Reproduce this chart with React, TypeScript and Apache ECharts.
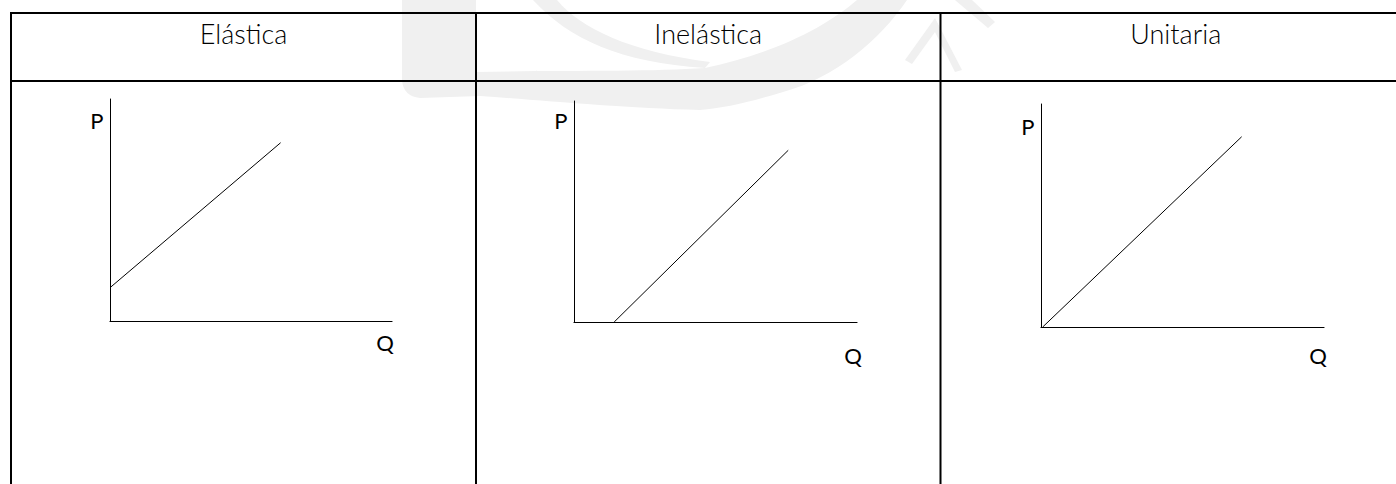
import React, { useEffect, useRef } from "react";
import * as echarts from "echarts";

// ---- data ----
const CATEGORIES = ["Elástica", "Inelástica", "Unitaria"];
const P_LABEL = "P";
const Q_LABEL = "Q";
const X_MAX = 10;
const Y_MAX = 10;
const ELASTICA_LINE = [
  [0, 1.5],
  [6.05, 8.03],
];
const INELASTICA_LINE = [
  [1.42, 0],
  [7.57, 7.77],
];
const UNITARIA_LINE = [
  [0.06, 0],
  [7.09, 8.53],
];
const SERIES_DATA = [ELASTICA_LINE, INELASTICA_LINE, UNITARIA_LINE];

// ---- layout (px) ----
const COLUMN_EDGES = [11, 476, 940.5, 1411];
const TABLE_TOP = 13;
const HEADER_BOTTOM = 81;
const GRIDS = [
  { left: 110, top: 99, width: 282, height: 222, pDx: -6.5, pDy: 21.5, qDx: -7, qDy: 21 },
  { left: 574, top: 101, width: 283, height: 221, pDx: -6.5, pDy: 19.5, qDx: -4, qDy: 33 },
  { left: 1041, top: 104, width: 283, height: 223, pDx: -6.5, pDy: 22.3, qDx: -6, qDy: 28 },
];

const WM_COLOR = "#f0f0f0";
echarts.graphic.registerShape(
  "wmBand",
  echarts.graphic.extendPath(
    "M402,0 L476,0 L476,72 C560,70 650,72 705,68 C770,55 825,28 857,0 L907,0 C880,40 835,78 783,92 C750,102 725,108 700,110 C620,108 540,100 480,96 L420,98 Q403,96 402,80 Z",
    {}
  )
);
echarts.graphic.registerShape(
  "wmArc",
  echarts.graphic.extendPath(
    "M533,0 L557,0 C580,28 630,52 710,62 L705,68 C620,62 570,40 533,0 Z",
    {}
  )
);
echarts.graphic.registerShape(
  "wmArrow",
  echarts.graphic.extendPath(
    "M905,60 L935,18 L962,70 L955,72 L935,32 L912,64 Z M955,0 L972,0 L995,22 L988,28 Z",
    {}
  )
);

export default function App() {
  const ref = useRef<HTMLDivElement>(null);

  useEffect(() => {
    if (!ref.current) return;
    const chart = echarts.init(ref.current, undefined, { renderer: "svg" });

    const font = "Lato, 'Noto Sans', sans-serif";

    const grid = GRIDS.map((g) => ({
      left: g.left,
      top: g.top,
      width: g.width,
      height: g.height,
      containLabel: false,
      outerBoundsMode: "none",
    }));

    const xAxis = GRIDS.map((g, i) => ({
      type: "value",
      gridIndex: i,
      min: 0,
      max: X_MAX,
      axisLine: { show: true, onZero: false, lineStyle: { color: "#000", width: 1.2 } },
      axisTick: { show: false },
      axisLabel: { show: false },
      splitLine: { show: false },
    }));

    const yAxis = GRIDS.map((g, i) => ({
      type: "value",
      gridIndex: i,
      min: 0,
      max: Y_MAX,
      axisLine: { show: true, onZero: false, lineStyle: { color: "#000", width: 1 } },
      axisTick: { show: false },
      axisLabel: { show: false },
      splitLine: { show: false },
    }));

    const series = SERIES_DATA.map((d, i) => ({
      type: "line",
      xAxisIndex: i,
      yAxisIndex: i,
      data: d,
      showSymbol: false,
      symbol: "none",
      silent: true,
      lineStyle: { color: "#000", width: 1 },
    }));

    const tableLines: any[] = [];
    const lineStyle = { stroke: "#000", lineWidth: 2 };
    tableLines.push({
      type: "line",
      shape: { x1: COLUMN_EDGES[0] - 1, y1: TABLE_TOP, x2: 1396, y2: TABLE_TOP },
      style: lineStyle,
      z: 10,
    });
    tableLines.push({
      type: "line",
      shape: { x1: COLUMN_EDGES[0] - 1, y1: HEADER_BOTTOM, x2: 1396, y2: HEADER_BOTTOM },
      style: lineStyle,
      z: 10,
    });
    COLUMN_EDGES.slice(0, 3).forEach((x) => {
      tableLines.push({
        type: "line",
        shape: { x1: x, y1: TABLE_TOP - 1, x2: x, y2: 484 },
        style: lineStyle,
        z: 10,
      });
    });

    const headers = CATEGORIES.map((c, i) => ({
      type: "text",
      x: (COLUMN_EDGES[i] + COLUMN_EDGES[i + 1]) / 2,
      y: 33,
      z: 10,
      style: {
        text: c,
        fill: "#000",
        font: `300 27px ${font}`,
        textAlign: "center",
        textVerticalAlign: "middle",
      },
    }));

    const watermark = ["wmBand", "wmArc", "wmArrow"].map((t) => ({
      type: t,
      x: 0,
      y: 0,
      z: -10,
      silent: true,
      style: { fill: WM_COLOR, stroke: null },
    }));

    chart.setOption({
      animation: false,
      backgroundColor: "#fff",
      grid,
      xAxis,
      yAxis,
      series,
      graphic: { elements: [...watermark, ...tableLines, ...headers] },
    });

    // axis titles anchored to the axis ends through the library's scales
    const axisTitles: any[] = [];
    GRIDS.forEach((g, i) => {
      const pEnd = chart.convertToPixel({ gridIndex: i }, [0, Y_MAX]) as number[];
      const qEnd = chart.convertToPixel({ gridIndex: i }, [X_MAX, 0]) as number[];
      axisTitles.push({
        type: "text",
        x: pEnd[0] + g.pDx,
        y: pEnd[1] + g.pDy,
        z: 10,
        style: {
          text: P_LABEL,
          fill: "#000",
          font: `400 22px ${font}`,
          textAlign: "right",
          textVerticalAlign: "middle",
        },
      });
      axisTitles.push({
        type: "text",
        x: qEnd[0] + g.qDx,
        y: qEnd[1] + g.qDy,
        z: 10,
        style: {
          text: Q_LABEL,
          fill: "#000",
          font: `400 22px ${font}`,
          textAlign: "center",
          textVerticalAlign: "middle",
        },
      });
    });

    chart.setOption({
      graphic: { elements: [...watermark, ...tableLines, ...headers, ...axisTitles] },
    });

    return () => chart.dispose();
  }, []);

  return (
    <div
      ref={ref}
      style={{ position: "fixed", left: 0, top: 0, width: 1396, height: 484 }}
    />
  );
}
